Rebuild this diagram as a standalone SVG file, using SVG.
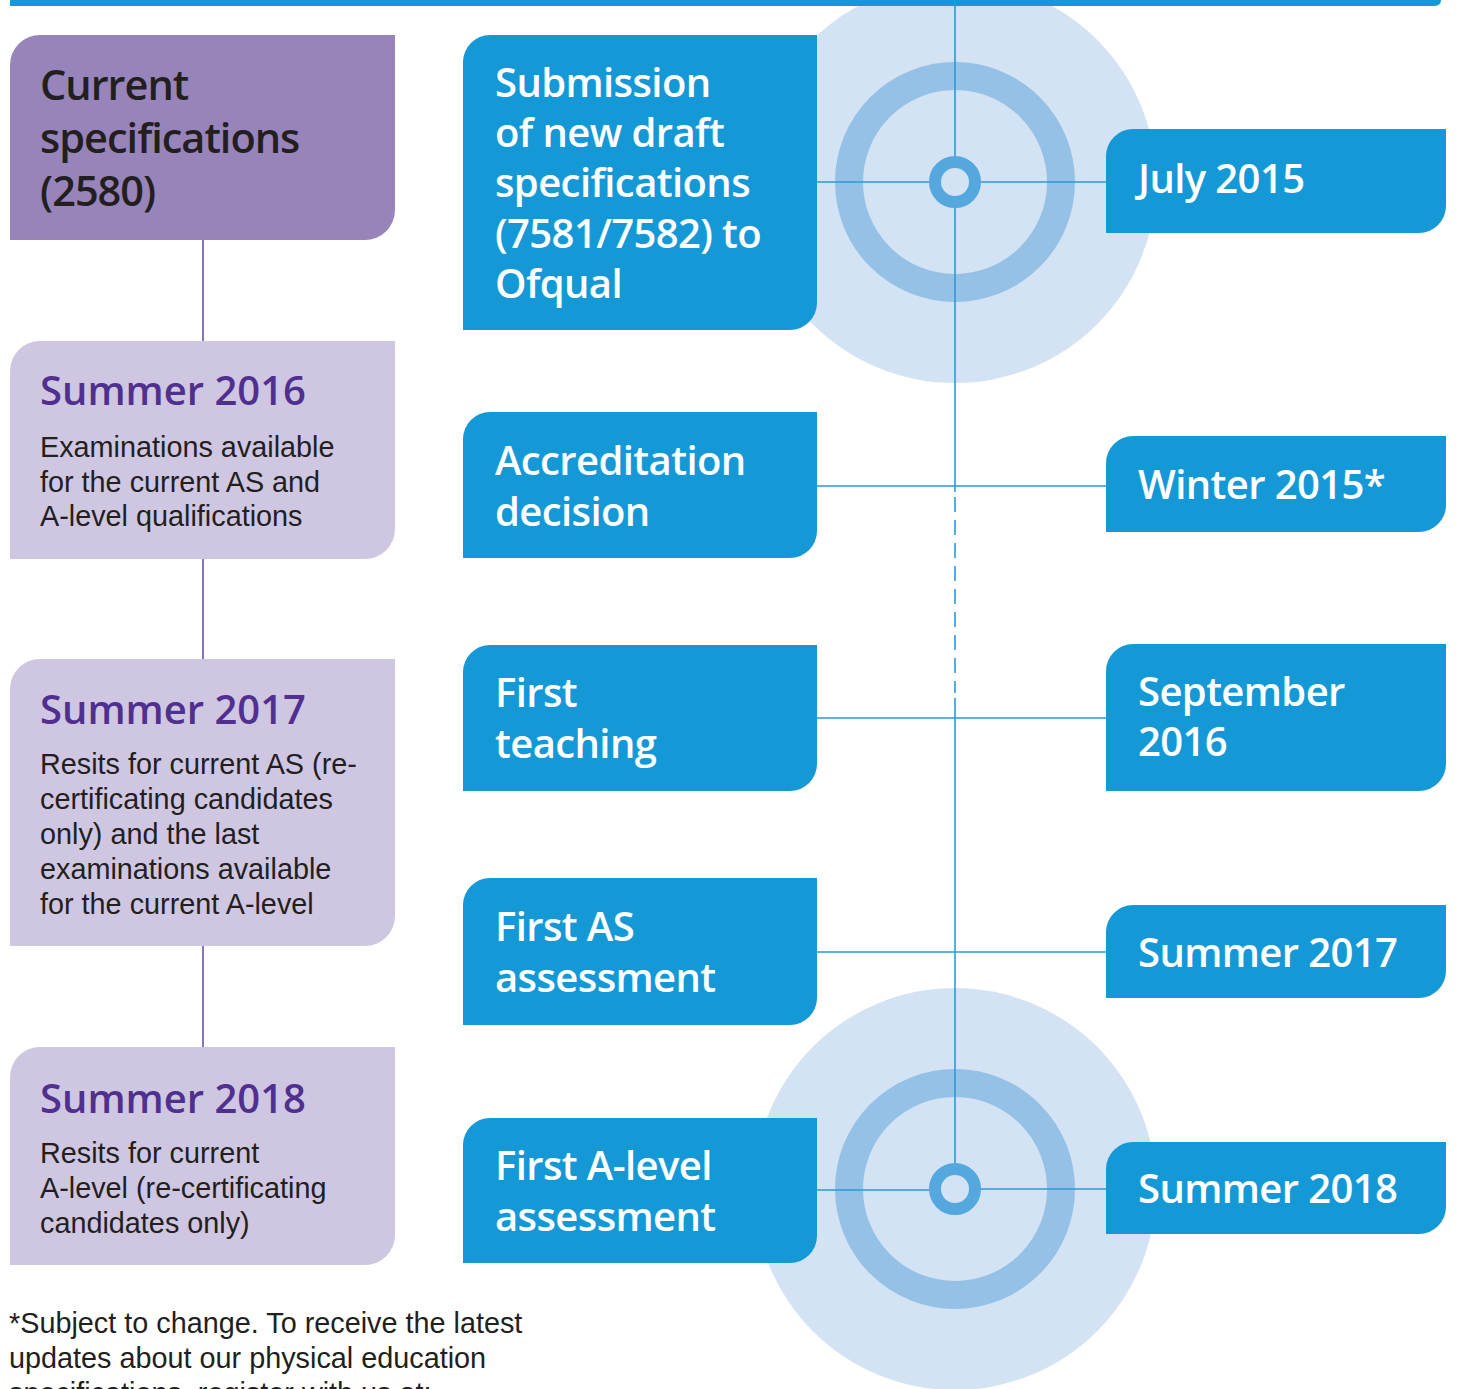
<svg xmlns="http://www.w3.org/2000/svg" width="1457" height="1389" viewBox="0 0 1457 1389">
<style>
.blue{fill:#1499d6}
.dpur{fill:#9784bb}
.lpur{fill:#cfc6e2}
.bt{font-family:"Open Sans","Noto Sans",sans-serif;font-weight:600;font-size:40px;letter-spacing:-0.6px;fill:#ffffff}
.ph{font-family:"Open Sans","Noto Sans",sans-serif;font-weight:600;font-size:40px;fill:#50308f}
.ch{font-family:"Open Sans","Noto Sans",sans-serif;font-weight:600;font-size:41.5px;letter-spacing:-1px;fill:#231f20}
.body{font-family:"Liberation Sans",Arial,sans-serif;font-size:28.8px;fill:#231f20}
.ln{stroke:#2b9ad6;stroke-width:1.6;fill:none}
.pl{stroke:#6c4fa3;stroke-width:1.6;fill:none}
.big{fill:#d3e3f4}
.ring{fill:none;stroke:#95c1e7;stroke-width:28}
.dot{fill:#d3e3f4;stroke:#55a8de;stroke-width:12}
</style>

<!-- background circles -->
<g id="circles">
<circle class="big" cx="955" cy="182" r="201"/>
<circle class="ring" cx="955" cy="182" r="106"/>
<circle class="big" cx="955" cy="1189" r="201"/>
<circle class="ring" cx="955" cy="1189" r="106"/>
</g>

<!-- top bar -->
<path id="topbar" class="blue" d="M10,0 H1441 V0 Q1441,6 1433,6 H10 Z"/>

<g id="connectors">
<line class="ln" x1="955" y1="0" x2="955" y2="492"/>
<line class="ln" x1="955" y1="497" x2="955" y2="693" stroke-dasharray="15 8"/>
<line class="ln" x1="955" y1="698" x2="955" y2="1163"/>
<line class="ln" x1="817" y1="182" x2="1106" y2="182"/>
<line class="ln" x1="817" y1="486" x2="1106" y2="486"/>
<line class="ln" x1="817" y1="718" x2="1106" y2="718"/>
<line class="ln" x1="817" y1="952" x2="1106" y2="952"/>
<line class="ln" x1="817" y1="1190" x2="930" y2="1190"/>
<line class="ln" x1="980" y1="1189" x2="1106" y2="1189"/>
<line class="pl" x1="203" y1="240" x2="203" y2="1047"/>
<circle class="dot" cx="955" cy="182" r="20"/>
<circle class="dot" cx="955" cy="1189" r="20"/>
</g>

<!-- left column -->
<g id="current">
<path class="dpur" d="M10,65 A30,30 0 0 1 40,35 H395 V210 A30,30 0 0 1 365,240 H10 Z"/>
<text class="ch" x="40" y="100">Current</text>
<text class="ch" x="40" y="153">specifications</text>
<text class="ch" x="40" y="206">(2580)</text>
</g>
<g id="left-summer2016">
<path class="lpur" d="M10,371 A30,30 0 0 1 40,341 H395 V529 A30,30 0 0 1 365,559 H10 Z"/>
<text class="ph" x="40" y="405">Summer 2016</text>
<text class="body" x="40" y="457">Examinations available</text>
<text class="body" x="40" y="492">for the current AS and</text>
<text class="body" x="40" y="526">A-level qualifications</text>
</g>
<g id="left-summer2017">
<path class="lpur" d="M10,689 A30,30 0 0 1 40,659 H395 V916 A30,30 0 0 1 365,946 H10 Z"/>
<text class="ph" x="40" y="724">Summer 2017</text>
<text class="body" x="40" y="774">Resits for current AS (re-</text>
<text class="body" x="40" y="809">certificating candidates</text>
<text class="body" x="40" y="844">only) and the last</text>
<text class="body" x="40" y="879">examinations available</text>
<text class="body" x="40" y="914">for the current A-level</text>
</g>
<g id="left-summer2018">
<path class="lpur" d="M10,1077 A30,30 0 0 1 40,1047 H395 V1235 A30,30 0 0 1 365,1265 H10 Z"/>
<text class="ph" x="40" y="1113">Summer 2018</text>
<text class="body" x="40" y="1163">Resits for current</text>
<text class="body" x="40" y="1198">A-level (re-certificating</text>
<text class="body" x="40" y="1233">candidates only)</text>
</g>

<!-- middle column -->
<g id="submission">
<path class="blue" d="M463,62 A27,27 0 0 1 490,35 H817 V303 A27,27 0 0 1 790,330 H463 Z"/>
<text class="bt" x="495" y="97">Submission</text>
<text class="bt" x="495" y="147">of new draft</text>
<text class="bt" x="495" y="197">specifications</text>
<text class="bt" x="495" y="248">(7581/7582) to</text>
<text class="bt" x="495" y="298">Ofqual</text>
</g>
<g id="accreditation">
<path class="blue" d="M463,439 A27,27 0 0 1 490,412 H817 V531 A27,27 0 0 1 790,558 H463 Z"/>
<text class="bt" x="495" y="475">Accreditation</text>
<text class="bt" x="495" y="526">decision</text>
</g>
<g id="first-teaching">
<path class="blue" d="M463,672 A27,27 0 0 1 490,645 H817 V764 A27,27 0 0 1 790,791 H463 Z"/>
<text class="bt" x="495" y="707">First</text>
<text class="bt" x="495" y="758">teaching</text>
</g>
<g id="first-as">
<path class="blue" d="M463,905 A27,27 0 0 1 490,878 H817 V998 A27,27 0 0 1 790,1025 H463 Z"/>
<text class="bt" x="495" y="941">First AS</text>
<text class="bt" x="495" y="992">assessment</text>
</g>
<g id="first-alevel">
<path class="blue" d="M463,1145 A27,27 0 0 1 490,1118 H817 V1236 A27,27 0 0 1 790,1263 H463 Z"/>
<text class="bt" x="495" y="1180">First A-level</text>
<text class="bt" x="495" y="1231">assessment</text>
</g>

<!-- right column -->
<g id="july2015">
<path class="blue" d="M1106,156 A27,27 0 0 1 1133,129 H1446 V206 A27,27 0 0 1 1419,233 H1106 Z"/>
<text class="bt" x="1138" y="193">July 2015</text>
</g>
<g id="winter2015">
<path class="blue" d="M1106,463 A27,27 0 0 1 1133,436 H1446 V505 A27,27 0 0 1 1419,532 H1106 Z"/>
<text class="bt" x="1138" y="499">Winter 2015*</text>
</g>
<g id="september2016">
<path class="blue" d="M1106,671 A27,27 0 0 1 1133,644 H1446 V764 A27,27 0 0 1 1419,791 H1106 Z"/>
<text class="bt" x="1138" y="706">September</text>
<text class="bt" x="1138" y="756">2016</text>
</g>
<g id="summer2017">
<path class="blue" d="M1106,932 A27,27 0 0 1 1133,905 H1446 V971 A27,27 0 0 1 1419,998 H1106 Z"/>
<text class="bt" x="1138" y="967">Summer 2017</text>
</g>
<g id="summer2018">
<path class="blue" d="M1106,1169 A27,27 0 0 1 1133,1142 H1446 V1207 A27,27 0 0 1 1419,1234 H1106 Z"/>
<text class="bt" x="1138" y="1203">Summer 2018</text>
</g>

<g id="footnote">
<text class="body" x="9" y="1333">*Subject to change. To receive the latest</text>
<text class="body" x="9" y="1368">updates about our physical education</text>
<text class="body" x="9" y="1403">specifications, register with us at:</text>
</g>
</svg>
